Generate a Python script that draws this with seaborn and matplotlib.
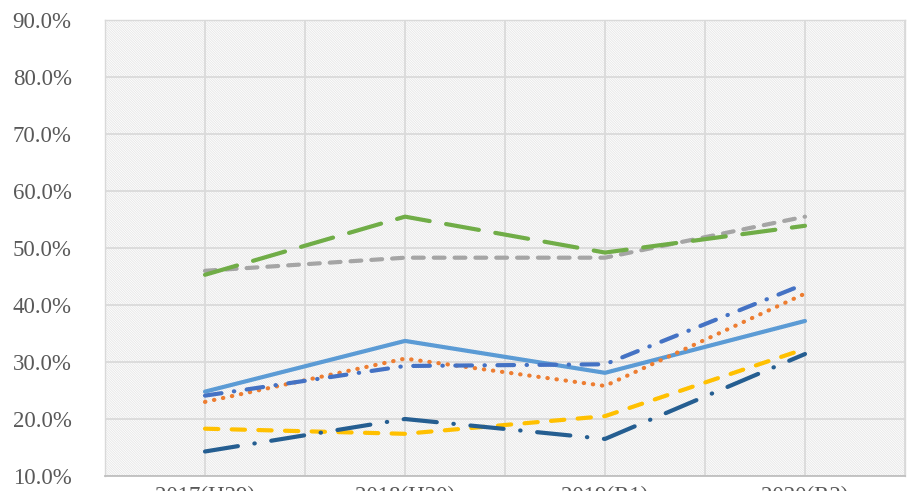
import matplotlib
matplotlib.use("Agg")
import matplotlib.pyplot as plt
import matplotlib.ticker as mticker
from matplotlib.patches import Rectangle
import pandas as pd
import seaborn as sns

# data
years = ["2017(H29)", "2018(H30)", "2019(R1)", "2020(R2)"]
light_blue = [24.8, 33.7, 28.1, 37.2]
orange = [23.0, 30.6, 25.8, 42.0]
gray = [46.0, 48.3, 48.3, 55.5]
yellow = [18.3, 17.4, 20.5, 32.3]
blue = [24.1, 29.3, 29.6, 43.7]
green = [45.3, 55.5, 49.2, 53.9]
dark_blue = [14.3, 20.0, 16.5, 31.4]

series = [
    (light_blue, "#5B9BD5", "-"),
    (orange, "#ED7D31", (0, (0.1, 2.1))),
    (gray, "#A5A5A5", (0, (2.6, 2.4))),
    (yellow, "#FFC000", (0, (3.2, 3.2))),
    (blue, "#4472C4", (0, (4.0, 3.0, 0.1, 3.0))),
    (green, "#70AD47", (0, (8.0, 4.0))),
    (dark_blue, "#255E91", (0, (8.0, 4.0, 0.1, 4.0))),
]

sns.set_theme(style="white")
plt.rcParams["font.family"] = ["Liberation Serif", "DejaVu Serif"]
plt.rcParams["hatch.linewidth"] = 0.6

fig = plt.figure(figsize=(9.14, 4.91), dpi=100)
ax = fig.add_axes([105 / 914, 1 - 476 / 491, 800 / 914, 456 / 491])

# fine diagonal hatch on the plot area
ax.add_patch(Rectangle((0, 0), 1, 1, transform=ax.transAxes, facecolor="white",
                       edgecolor="#E6E6E6", linewidth=0, hatch="\\" * 14, zorder=0))

x = list(range(len(years)))
for vals, color, ls in series:
    df = pd.DataFrame({"x": x, "y": vals})
    sns.lineplot(data=df, x="x", y="y", ax=ax, color=color, linestyle=ls,
                 linewidth=3.0, dash_capstyle="round", solid_capstyle="round",
                 solid_joinstyle="round", zorder=3)

ax.set_xlim(-0.5, 3.5)
ax.set_ylim(10, 90)
ax.yaxis.set_major_locator(mticker.MultipleLocator(10))
ax.yaxis.set_major_formatter(mticker.FuncFormatter(lambda v, p: f"{v:.1f}%"))
ax.set_xticks(x)
ax.set_xticklabels(years)
ax.xaxis.set_minor_locator(mticker.FixedLocator([-0.5, 0.5, 1.5, 2.5, 3.5]))
ax.grid(True, which="both", color="#DADADA", linewidth=1.3, zorder=1)
ax.set_axisbelow(True)
ax.set_xlabel("")
ax.set_ylabel("")

ax.tick_params(axis="y", length=0, pad=24, labelsize=16.5, labelcolor="#595959")
ax.tick_params(axis="x", which="major", length=0, pad=7, labelsize=16.5, labelcolor="#595959")
ax.tick_params(axis="x", which="minor", length=14, width=1.2, color="#D9D9D9", direction="out")

for side in ["top", "right", "left"]:
    ax.spines[side].set_color("#D9D9D9")
    ax.spines[side].set_linewidth(1.0)
ax.spines["bottom"].set_color("#BFBFBF")
ax.spines["bottom"].set_linewidth(1.3)

fig.savefig("out.png", dpi=100, facecolor="white")
